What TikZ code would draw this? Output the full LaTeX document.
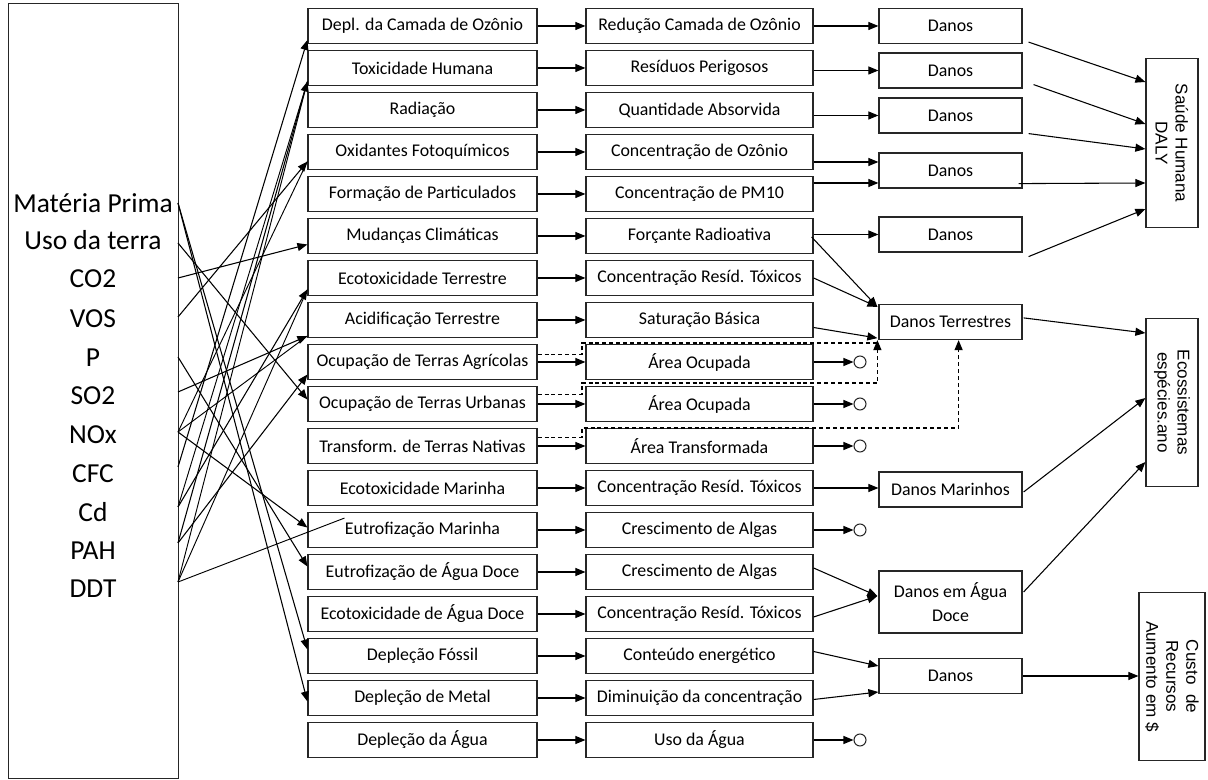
\documentclass[tikz,border=0pt]{standalone}
\usepackage{fontspec}
\setmainfont{Carlito}
\newfontfamily\rotfont{Liberation Sans}
\usetikzlibrary{arrows.meta,calc}
\begin{document}
\begin{tikzpicture}[x=0.75pt,y=-0.75pt,
  box/.style={draw=black!85, line width=0.9pt, fill=white, inner sep=0pt, minimum height=26.25pt, font=\fontsize{13.4}{18}\selectfont, align=center},
  c1box/.style={box, minimum width=171.75pt},
  c2box/.style={box, minimum width=170.25pt},
  c3box/.style={box, minimum width=107.25pt},
  rbox/.style={draw=black!85, line width=0.9pt, fill=white, rotate=-90, inner sep=0pt, align=center, font=\rotfont\fontsize{12.8}{15}\selectfont, minimum width=126.5pt},
  sub/.style={font=\fontsize{20.6}{24}\selectfont, inner sep=0pt},
  arr/.style={-{Triangle[length=7.5pt,width=6pt]}, line width=0.8pt},
  link/.style={line width=0.7pt},
  dasharr/.style={arr, line width=0.9pt, dash pattern=on 3pt off 2.2pt},
  dline/.style={line width=0.9pt, dash pattern=on 3pt off 2.2pt},
  endc/.style={circle, draw=black!85, line width=0.8pt, minimum size=9pt, inner sep=0pt}
]
\useasboundingbox (0,0) rectangle (1208,780);

% source box
\node[draw=black!85, line width=0.9pt, anchor=north west, minimum width=127.5pt, minimum height=581.25pt, inner sep=0pt] (src) at (8,3) {};
\node[sub] (s1) at (93,203) {Matéria Prima};
\node[sub] (s2) at (93,240) {Uso da terra};
\node[sub] (s3) at (93,279) {CO2};
\node[sub] (s4) at (93,319) {VOS};
\node[sub] (s5) at (93,358) {P};
\node[sub] (s6) at (93,396) {SO2};
\node[sub] (s7) at (93,435) {NOx};
\node[sub] (s8) at (93,474) {CFC};
\node[sub] (s9) at (93,512) {Cd};
\node[sub] (s10) at (93,551) {PAH};
\node[sub] (s11) at (93,589) {DDT};

\coordinate (oMP) at (178,203);
\coordinate (oUso) at (178,243);
\coordinate (oCO2) at (178,278);
\coordinate (oVOS) at (178,317);
\coordinate (oP) at (178,357);
\coordinate (oSO2) at (178,392);
\coordinate (oNOx) at (178,432);
\coordinate (oCFC) at (178,467);
\coordinate (oCd) at (178,507);
\coordinate (oPAH) at (178,543);
\coordinate (oDDT) at (178,582);

% columns 1 and 2
\foreach \i/\a/\b in {
 1/{Depl. da Camada de Ozônio}/{Redução Camada de Ozônio},
 2/{Toxicidade Humana}/{Resíduos Perigosos},
 3/{Radiação}/{Quantidade Absorvida},
 4/{Oxidantes Fotoquímicos}/{Concentração de Ozônio},
 5/{Formação de Particulados}/{Concentração de PM10},
 6/{Mudanças Climáticas}/{Forçante Radioativa},
 7/{Ecotoxicidade Terrestre}/{Concentração Resíd. Tóxicos},
 8/{Acidificação Terrestre}/{Saturação Básica},
 9/{Ocupação de Terras Agrícolas}/{Área Ocupada},
 10/{Ocupação de Terras Urbanas}/{Área Ocupada},
 11/{Transform. de Terras Nativas}/{Área Transformada},
 12/{Ecotoxicidade Marinha}/{Concentração Resíd. Tóxicos},
 13/{Eutrofização Marinha}/{Crescimento de Algas},
 14/{Eutrofização de Água Doce}/{Crescimento de Algas},
 15/{Ecotoxicidade de Água Doce}/{Concentração Resíd. Tóxicos},
 16/{Depleção Fóssil}/{Conteúdo energético},
 17/{Depleção de Metal}/{Diminuição da concentração},
 18/{Depleção da Água}/{Uso da Água}} {
  \node[c1box] (c1-\i) at (422.5,{26+42*(\i-1)}) {\a};
  \node[c2box] (c2-\i) at (699.5,{26+42*(\i-1)}) {\b};
  \draw[arr] (c1-\i) -- (c2-\i);
}

% source links
\draw[arr] (oCFC) -- ($(c1-1.west)+(0,14)$);
\draw[arr] (oPAH) -- ($(c1-2.west)+(0,13.5)$);
\draw[link] (oDDT) -- ($(c1-2.west)+(0,13.5)$);
\draw[link] (oCd) -- ($(c1-2.west)+(0,13.5)$);
\draw[arr] (oVOS) -- ($(c1-4.west)+(0,9.5)$);
\draw[link] (oNOx) -- ($(c1-4.west)+(0,9.5)$);
\draw[arr] (oCO2) -- ($(c1-6.west)+(0,8.5)$);
\draw[arr] (oCd) -- ($(c1-7.west)+(0,11.5)$);
\draw[link] (oDDT) -- ($(c1-7.west)+(0,11.5)$);
\draw[arr] (oSO2) -- ($(c1-8.west)+(0,16)$);
\draw[link] (oNOx) -- ($(c1-8.west)+(0,16)$);
\draw[arr] (oPAH) -- ($(c1-9.west)+(0,12.5)$);
\draw[arr] (oUso) -- ($(c1-10.west)+(0,-4.5)$);
\draw[arr] (oNOx) -- ($(c1-13.west)+(0,-2.5)$);
\draw[arr] (oP) -- ($(c1-14.west)+(0,-5.5)$);
\draw[arr] (oMP) -- ($(c1-16.west)+(0,-6.5)$);
\draw[arr] (oMP) -- ($(c1-17.west)+(0,3.5)$);
\draw[link] (oDDT) -- ($(c1-12.south west)+(37,12)$);

% end circles
\foreach \i in {9,10,11,13,18} {
  \node[endc] (e\i) at (860,{26+42*(\i-1)}) {};
  \draw[arr] (c2-\i) -- (e\i);
}

% column 3
\node[c3box] (d1) at (950.5,26) {Danos};
\node[c3box] (d2) at (950.5,70.5) {Danos};
\node[c3box] (d3) at (950.5,115.5) {Danos};
\node[c3box] (d4) at (950.5,170.5) {Danos};
\node[c3box] (d5) at (950.5,234.5) {Danos};
\node[c3box] (dT) at (950.5,322) {Danos Terrestres};
\node[c3box] (dM) at (950.5,489.5) {Danos Marinhos};
\node[c3box, minimum height=46.5pt] (dA) at (950.5,602) {Danos em Água\\Doce};
\node[c3box] (d6) at (950.5,676) {Danos};

% right boxes (rotated: south anchor is the left side)
\node[rbox, minimum height=39pt] (sh) at (1172,143) {Saúde Humana\\DALY};
\node[rbox, minimum height=39pt] (eco) at (1172,402.5) {Ecossistemas\\espécies.ano};
\node[rbox, minimum height=49.5pt] (cus) at (1172,676.5) {Custo\ \ de\\Recursos\\Aumento em \$};

% column 2 -> column 3
\draw[arr] (c2-1) -- (d1);
\draw[arr] (c2-2.east |- d2) -- (d2);
\draw[arr] (c2-3.east |- d3) -- (d3);
\coordinate (a4) at ($(c2-4.east)+(0,10)$);
\draw[arr] (a4) -- (a4 -| d4.west);
\coordinate (a5) at ($(c2-5.east)+(0,-11)$);
\draw[arr] (a5) -- (a5 -| d4.west);
\draw[arr] (c2-6.east |- d5) -- (d5);
\draw[arr] ($(c2-6.east)+(-2,1)$) -- ($(dT.north west)+(-1,3)$);
\draw[arr] (c2-7.east) -- ($(dT.north west)+(-1,3)$);
\draw[arr] ($(c2-8.east)+(0,7.5)$) -- ($(dT.south west)+(-1,-2)$);
\draw[arr] (c2-12.east) -- (c2-12.east -| dM.west);
\draw[arr] ($(c2-14.east)+(0,-4)$) -- ($(dA.west)+(-1,-6)$);
\draw[arr] ($(c2-15.east)+(0,3)$) -- ($(dA.west)+(-1,-6)$);
\draw[arr] ($(c2-16.east)+(0,-4.5)$) -- ($(d6.west)+(0,-10)$);
\draw[arr] ($(c2-17.east)+(0,1.5)$) -- ($(d6.west)+(0,16)$);

% dashed land-use links
\draw[dline] ($(c1-9.east)+(0,-7.5)$) -| (582,343) -- (877,343);
\draw[dasharr] ($(c1-10.east)+(0,-9.5)$) -| (582,383) -| ($(dT.south west)+(-1,0)$);
\draw[dasharr] ($(c1-11.east)+(0,-8.5)$) -| (582,428) -| ($(dT.south east)+(-64,0)$);

% column 3 -> right
\draw[arr] ($(d1.south east)+(6,-2)$) -- ($(sh.south)+(0,-61)$);
\draw[arr] ($(d2.south east)+(11,-4)$) -- ($(sh.south)+(0,-19)$);
\draw[arr] ($(d3.south east)+(6,0)$) -- ($(sh.south)+(0,6)$);
\draw[arr] ($(d4.south east)+(-4,-5)$) -- ($(sh.south)+(0,40)$);
\draw[arr] ($(d5.south east)+(6,4)$) -- ($(sh.south)+(0,66)$);
\draw[arr] ($(dT.north east)+(1,14)$) -- ($(eco.south)+(0,-69.5)$);
\draw[arr] ($(dM.east)+(1,2.5)$) -- ($(eco.south)+(0,-4.5)$);
\draw[arr] ($(dA.east)+(1,-10)$) -- ($(eco.south)+(0,59.5)$);
\draw[arr] (d6) -- (d6 -| cus.south);
\end{tikzpicture}
\end{document}
